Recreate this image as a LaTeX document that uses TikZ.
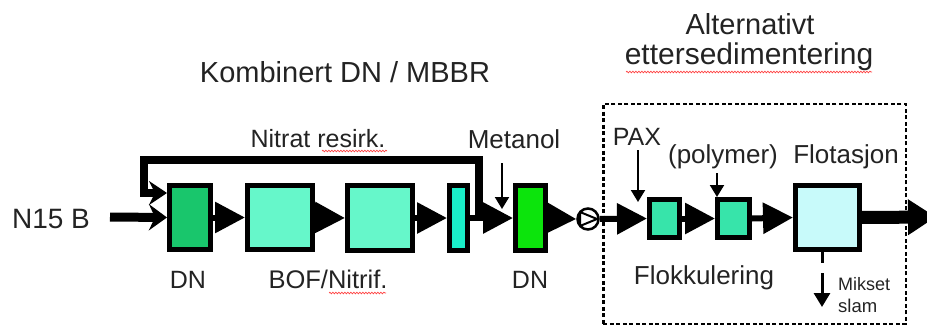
\documentclass[tikz,border=0pt]{standalone}
\usepackage{fontspec}
\setmainfont{Liberation Sans}
\usetikzlibrary{arrows.meta,decorations.pathmorphing}
\definecolor{cDNa}{RGB}{25,198,108}
\definecolor{cBOF}{RGB}{102,247,202}
\definecolor{cSmall}{RGB}{25,238,200}
\definecolor{cDNb}{RGB}{12,228,12}
\definecolor{cFlok}{RGB}{55,228,170}
\definecolor{cFlot}{RGB}{200,250,250}
\definecolor{txt}{RGB}{35,35,35}
\begin{document}
\begin{tikzpicture}[x=1pt,y=-1pt,
  box/.style={draw=black,line width=5pt,inner sep=0pt},
  flow/.style={line width=6pt,-{Triangle[length=30pt,width=30pt]}},
  feed/.style={line width=8pt,-{Stealth[length=18pt,width=24pt,inset=6pt]}},
  dose/.style={line width=2pt,-{Triangle[length=12pt,width=14pt]}},
  lbl/.style={anchor=base,text=txt,inner sep=0pt},
  spell/.style={draw=red!75,line width=0.7pt,decorate,decoration={snake,amplitude=0.8pt,segment length=3pt}},
  frame/.style={draw=black,line width=2.5pt,dash pattern=on 4pt off 2.5pt,inner sep=0pt}
]
\useasboundingbox (0,0) rectangle (927,329);

% frame of the alternative post-sedimentation
\node[frame,minimum width=302.5,minimum height=219.5] (frm) at (754.5,214) {};

% boxes
\node[box,fill=cDNa,minimum width=41,minimum height=64] (dn1) at (190,217.5) {};
\node[box,fill=cBOF,minimum width=65,minimum height=64] (bof1) at (280,217.5) {};
\node[box,fill=cBOF,minimum width=65,minimum height=65] (bof2) at (380,218) {};
\node[box,fill=cSmall,minimum width=18,minimum height=65] (sm) at (458.5,218) {};
\node[box,fill=cDNb,minimum width=30,minimum height=65] (dn2) at (530.5,218) {};
\node[box,fill=cFlok,minimum width=30,minimum height=38] (fl1) at (664.5,218.5) {};
\node[box,fill=cFlok,minimum width=32,minimum height=38] (fl2) at (733.5,218.5) {};
\node[box,fill=cFlot,minimum width=64,minimum height=64] (flot) at (827.5,217.5) {};

% pump symbol
\node[circle,draw=black,line width=2.5pt,minimum size=21,inner sep=0pt,fill=white] (pump) at (588,219) {};
\draw[line width=2pt,line join=round] (580,212) -- (597,219) -- (580,226) -- cycle;

% labels
\node[lbl,font=\fontsize{29}{32}\selectfont] (komb) at (345,83) {Kombinert DN / MBBR};
\node[lbl,font=\fontsize{29}{32}\selectfont] (alt) at (750,35) {Alternativt};
\node[lbl,font=\fontsize{30}{33}\selectfont] (etter) at (749,65) {ettersedimentering};
\node[lbl,font=\fontsize{25}{28}\selectfont] (nit) at (318,147) {Nitrat resirk.};
\node[lbl,font=\fontsize{26}{29}\selectfont] (met) at (514,148) {Metanol};
\node[lbl,font=\fontsize{28}{31}\selectfont] (n15) at (51,228) {N15 B};
\node[lbl,font=\fontsize{25}{28}\selectfont] (ldn1) at (188,288) {DN};
\node[lbl,font=\fontsize{25.5}{28}\selectfont] (lbof) at (328,288) {BOF/Nitrif.};
\node[lbl,font=\fontsize{25}{28}\selectfont] (ldn2) at (530,288) {DN};
\node[lbl,font=\fontsize{25}{28}\selectfont] (pax) at (637,145) {PAX};
\node[lbl,font=\fontsize{26}{29}\selectfont] (poly) at (723,163) {(polymer)};
\node[lbl,font=\fontsize{26}{29}\selectfont] (lflot) at (846,163) {Flotasjon};
\node[lbl,font=\fontsize{26}{29}\selectfont] (lflok) at (704,284) {Flokkulering};
\node[lbl,anchor=base west,font=\fontsize{18}{20}\selectfont] (mik) at (838,290) {Mikset};
\node[lbl,anchor=base west,font=\fontsize{18.5}{20}\selectfont] (slam) at (838,312) {slam};

% spell-check underlines
\draw[spell] (322,151) -- (387,151);
\draw[spell] (329,293) -- (386,293);
\draw[spell] (626,72) -- (872,72);

% coordinates
\coordinate (in0) at (110,217);
\coordinate (rj) at (479,217);
\coordinate (rl) at (144,160);
\coordinate (rin) at (167,193);
\coordinate (met0) at (502,163);
\coordinate (met1) at (502,209);
\coordinate (pax0) at (638,150);
\coordinate (pax1) at (638,202);
\coordinate (pol0) at (717,173);
\coordinate (ms0) at (822,263);
\coordinate (ms1) at (822,273);
\coordinate (ms2) at (822,307);
\coordinate (out) at (936,217);

% recirculation
\draw[feed,line join=miter] (rj) |- (rl) |- (rin);
% input
\draw[line width=9pt,-{Stealth[length=18pt,width=26pt,inset=6pt]}] (in0) -- (dn1.west);

% main flow
\draw[flow] (dn1.east) -- (bof1.west);
\draw[flow] (bof1.east) -- (bof2.west);
\draw[flow] (bof2.east) -- (sm.west);
\draw[flow] (sm.east) -- (dn2.west);
\draw[flow] (dn2.east) -- (pump.west);
\draw[flow] (pump.east) -- (fl1.west);
\draw[flow] (fl1.east) -- (fl2.west);
\draw[flow] (fl2.east) -- (flot.west);
\draw[line width=13pt,-{Triangle[length=28pt,width=34pt]}] (flot.east) -- (out);

% dosing
\draw[dose] (met0) -- (met1);
\draw[dose] (pax0) -- (pax1);
\draw[dose] (pol0) -- (fl2.north -| pol0);

% sludge
\draw[line width=3pt] (flot.south -| ms0) -- (ms0);
\draw[line width=3pt,-{Triangle[length=14pt,width=16pt]}] (ms1) -- (ms2);
\end{tikzpicture}
\end{document}
